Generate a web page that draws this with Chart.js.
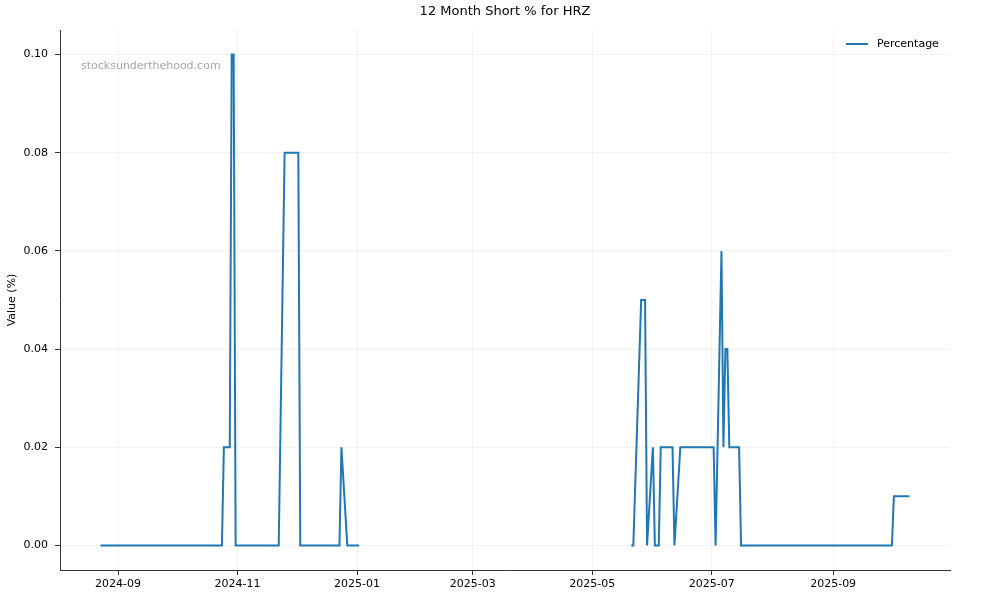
<!DOCTYPE html>
<html>
<head>
<meta charset="utf-8">
<script src="https://cdn.jsdelivr.net/npm/chart.js@4"></script>
<style>
  body { margin: 0; background: #fff; }
  #wrap { width: 1000px; height: 600px; }
</style>
</head>
<body>
<div id="wrap"><canvas id="shortChart"></canvas></div>
<script>
// short % readings (null marks the gap with no data)
const fechas = [
    "2024-08-23", "2024-10-24", "2024-10-25", "2024-10-28", "2024-10-29", "2024-10-30", "2024-10-31",
    "2024-11-22", "2024-11-25", "2024-12-02", "2024-12-03", "2024-12-23", "2024-12-24", "2024-12-27",
    "2025-01-02", "2025-03-01",
    "2025-05-21", "2025-05-22", "2025-05-26", "2025-05-28", "2025-05-29", "2025-06-01", "2025-06-02",
    "2025-06-04", "2025-06-05", "2025-06-11", "2025-06-12", "2025-06-15", "2025-07-02", "2025-07-03",
    "2025-07-06", "2025-07-07", "2025-07-08", "2025-07-09", "2025-07-10", "2025-07-15", "2025-07-16",
    "2025-10-01", "2025-10-02", "2025-10-10"
];
const porcentajes = [
    0, 0, 0.02, 0.02, 0.10, 0.10, 0,
    0, 0.08, 0.08, 0, 0, 0.02, 0,
    0, null,
    0, 0, 0.05, 0.05, 0, 0.02, 0,
    0, 0.02, 0.02, 0, 0.02, 0.02, 0,
    0.06, 0.02, 0.04, 0.04, 0.02, 0.02, 0,
    0, 0.01, 0.01
];
const ticksX = ["2024-09", "2024-11", "2025-01", "2025-03", "2025-05", "2025-07", "2025-09"];
const ticksY = [0, 0.02, 0.04, 0.06, 0.08, 0.10];

const puntos = fechas.map((f, i) => ({ x: Date.parse(f), y: porcentajes[i] }));
const inicio = Date.parse(fechas[0]);
const fin = Date.parse(fechas[fechas.length - 1]);
const margen = (fin - inicio) * 0.05;

const fuente = "'DejaVu Sans', sans-serif";

// title, watermark and legend drawn over the plot
const extras = {
    id: "extras",
    afterDraw(chart) {
        const { ctx, chartArea } = chart;
        const ds = chart.data.datasets[0];
        ctx.save();
        ctx.font = "13px " + fuente;
        ctx.fillStyle = "#000";
        ctx.textAlign = "center";
        ctx.textBaseline = "middle";
        ctx.fillText("12 Month Short % for HRZ", (chartArea.left + chartArea.right) / 2, 12);

        ctx.font = "11px " + fuente;
        ctx.fillStyle = "#a6a6a6";
        ctx.textAlign = "left";
        ctx.fillText("stocksunderthehood.com", chartArea.left + 21, 66);

        // legend
        const ly = chartArea.top + 14;
        const lx = chartArea.right - 104;
        ctx.strokeStyle = ds.borderColor;
        ctx.lineWidth = ds.borderWidth;
        ctx.beginPath();
        ctx.moveTo(lx, ly);
        ctx.lineTo(lx + 22, ly);
        ctx.stroke();
        ctx.fillStyle = "#000";
        ctx.fillText(ds.label, lx + 31, ly);
        ctx.restore();
    }
};

new Chart(document.getElementById("shortChart"), {
    type: "line",
    data: {
        datasets: [{
            label: "Percentage",
            data: puntos,
            borderColor: "#1f77b4",
            backgroundColor: "#1f77b4",
            borderWidth: 2,
            pointRadius: 0,
            tension: 0,
            spanGaps: false,
            fill: false
        }]
    },
    options: {
        responsive: true,
        maintainAspectRatio: false,
        animation: false,
        layout: { padding: { top: 30, right: 50, left: 0, bottom: 0 } },
        plugins: {
            legend: { display: false },
            tooltip: { enabled: false }
        },
        scales: {
            x: {
                type: "linear",
                min: inicio - margen,
                max: fin + margen,
                afterBuildTicks: scale => {
                    scale.ticks = ticksX.map(t => ({ value: Date.parse(t + "-01") }));
                },
                afterFit: scale => { scale.height = 30; },
                ticks: {
                    color: "#000",
                    font: { family: fuente, size: 11 },
                    padding: 3,
                    maxRotation: 0,
                    callback: v => new Date(v).toISOString().slice(0, 7)
                },
                grid: { color: "#f2f2f2", tickColor: "#333", tickLength: 5 },
                border: { color: "#333", width: 1 }
            },
            y: {
                min: -0.005,
                max: 0.105,
                afterBuildTicks: scale => {
                    scale.ticks = ticksY.map(v => ({ value: v }));
                },
                afterFit: scale => { scale.width = 60; },
                ticks: {
                    color: "#000",
                    font: { family: fuente, size: 11 },
                    padding: 7,
                    callback: v => v.toFixed(2)
                },
                title: {
                    display: true,
                    text: "Value (%)",
                    color: "#000",
                    font: { family: fuente, size: 11 },
                    padding: { top: 6, bottom: 0 }
                },
                grid: { color: "#f2f2f2", tickColor: "#333", tickLength: 5 },
                border: { color: "#333", width: 1 }
            }
        }
    },
    plugins: [extras]
});
</script>
</body>
</html>
